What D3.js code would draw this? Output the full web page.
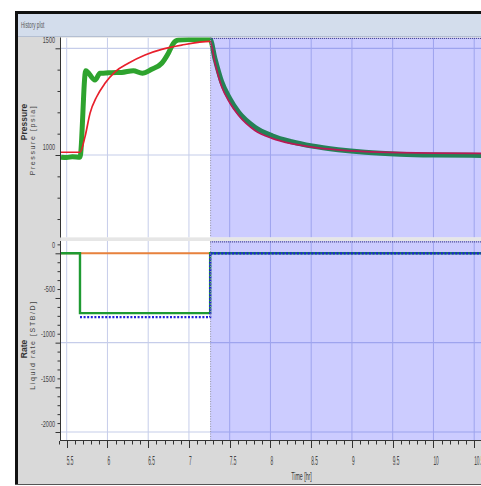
<!DOCTYPE html>
<html>
<head>
<meta charset="utf-8">
<script src="https://cdn.jsdelivr.net/npm/d3@7"></script>
<style>
  body { margin: 0; background: #fff; }
  svg { display: block; }
  text { font-family: "Liberation Sans", Arial, sans-serif; }
</style>
</head>
<body>
<svg id="chart" width="481" height="486"></svg>
<script>
// ---- data -------------------------------------------------------------
const xTickValues = [5.5, 6, 6.5, 7, 7.5, 8, 8.5, 9, 9.5, 10, 10.5];
const xTickLabels = ["5.5", "6", "6.5", "7", "7.5", "8", "8.5", "9", "9.5", "10", "10.5"];
const pTickValues = [1000, 1500];
const pTickLabels = ["1000", "1500"];
const rTickValues = [0, -500, -1000, -1500, -2000];
const rTickLabels = ["0", "-500", "-1000", "-1500", "-2000"];
const pGridValues = [1000, 1500];
const rGridValues = [0, -1000, -2000];
const shutInTime = 7.26;

// measured pressure (psia)
const measTime = [5.43, 5.50, 5.57, 5.663, 5.733, 5.847, 5.909, 5.98, 6.052, 6.175, 6.317, 6.428,
  6.543, 6.666, 6.747, 6.808, 6.869, 7.00, 7.26, 7.32, 7.40, 7.50, 7.61, 7.81, 8.02, 8.26,
  8.51, 8.83, 9.16, 9.59, 10.0, 10.6, 11.2];
const measPressure = [990, 988, 992, 990, 1395, 1351, 1383, 1384, 1386, 1387, 1395, 1383,
  1402, 1430, 1477, 1523, 1539, 1541, 1541, 1450, 1345, 1265, 1200, 1130, 1090, 1062,
  1042, 1025, 1013, 1004, 1000, 998, 997];

// model pressure (psia)
const modelTime = [5.43, 5.663, 5.725, 5.786, 5.868, 5.970, 6.093, 6.256, 6.461, 6.666, 6.911,
  7.26, 7.32, 7.40, 7.50, 7.61, 7.81, 8.02, 8.26, 8.51, 8.83, 9.16, 9.59, 10.0, 10.6, 11.2];
const modelPressure = [1013, 1013, 1086, 1195, 1273, 1336, 1390, 1430, 1469, 1495, 1515,
  1532, 1430, 1322, 1245, 1185, 1115, 1078, 1053, 1037, 1024, 1016, 1011, 1009, 1008, 1008];

// liquid rates (STB/D), step-wise
const rateModelTime = [5.43, 5.663, 7.26, 11.2];
const rateModel = [0, -670, 0, 0];
const rateMeasTime = [5.663, 7.26, 11.2];
const rateMeas = [-715, 0, 0];
const rateOtherTime = [5.43, 7.26];
const rateOther = [0, 0];

// ---- layout -----------------------------------------------------------
const svg = d3.select("#chart");
const plotL = 61, plotR = 541;
const topY0 = 37.5, topY1 = 237.5;
const botY0 = 241, botY1 = 441;

const x = d3.scaleLinear().domain([5.5, 10.5]).range([66.7, 474.2]);
const yP = d3.scaleLinear().domain([1000, 1500]).range([155, 48.3]);
const yR = d3.scaleLinear().domain([0, -2000]).range([253.3, 432]);

const condensed = (g, str, tx, ty, size, sx, anchor, fill, weight) =>
  g.append("text")
    .attr("transform", `translate(${tx},${ty}) scale(${sx},1)`)
    .attr("text-anchor", anchor)
    .attr("font-size", size)
    .attr("font-weight", weight || "normal")
    .attr("fill", fill)
    .text(str);

// window frame
svg.append("rect").attr("width", 481).attr("height", 486).attr("fill", "#fff");
svg.append("rect").attr("x", 18).attr("y", 36).attr("width", 463).attr("height", 449).attr("fill", "#d9d9d9");
svg.append("rect").attr("x", 18).attr("y", 14).attr("width", 463).attr("height", 22).attr("fill", "#d3ddec");
svg.append("line").attr("x1", 18).attr("x2", 481).attr("y1", 36.5).attr("y2", 36.5).attr("stroke", "#b4bfd2");
svg.append("rect").attr("x", 15).attr("y", 11).attr("width", 3).attr("height", 474).attr("fill", "#111");
svg.append("rect").attr("x", 15).attr("y", 11).attr("width", 466).attr("height", 3).attr("fill", "#111");
svg.append("line").attr("x1", 15).attr("x2", 481).attr("y1", 484.5).attr("y2", 484.5).attr("stroke", "#555");
condensed(svg, "History plot", 21, 28, 8.5, 0.55, "start", "#555");

// separator band between panels
svg.append("rect").attr("x", plotL).attr("y", topY1).attr("width", plotR - plotL).attr("height", botY0 - topY1).attr("fill", "#e6e6e6");

// panel backgrounds
const panels = [
  { y0: topY0, y1: topY1, id: "clipTop" },
  { y0: botY0, y1: botY1, id: "clipBot" }
];
const defs = svg.append("defs");
panels.forEach(p => {
  defs.append("clipPath").attr("id", p.id).append("rect")
    .attr("x", plotL).attr("y", p.y0).attr("width", plotR - plotL).attr("height", p.y1 - p.y0);
  svg.append("rect").attr("x", plotL).attr("y", p.y0).attr("width", plotR - plotL)
    .attr("height", p.y1 - p.y0).attr("fill", "#fff");
});

const gTop = svg.append("g").attr("clip-path", "url(#clipTop)");
const gBot = svg.append("g").attr("clip-path", "url(#clipBot)");
const gridColor = "#c6cdea";

// gridlines
[[gTop, topY0, topY1], [gBot, botY0, botY1]].forEach(([g, y0, y1]) => {
  g.selectAll(".vg").data(xTickValues).join("line")
    .attr("x1", d => x(d)).attr("x2", d => x(d)).attr("y1", y0).attr("y2", y1)
    .attr("stroke", gridColor).attr("stroke-width", 1);
});
gTop.selectAll(".hg").data(pGridValues).join("line")
  .attr("x1", plotL).attr("x2", plotR).attr("y1", d => yP(d)).attr("y2", d => yP(d))
  .attr("stroke", gridColor).attr("stroke-width", 1.2);
gBot.selectAll(".hg").data(rGridValues).join("line")
  .attr("x1", plotL).attr("x2", plotR).attr("y1", d => yR(d)).attr("y2", d => yR(d))
  .attr("stroke", gridColor).attr("stroke-width", 1.2);

// pressure curves
const pLine = d3.line().x(d => x(d[0])).y(d => yP(d[1])).curve(d3.curveMonotoneX);
gTop.append("path").attr("d", pLine(d3.zip(measTime, measPressure)))
  .attr("fill", "none").attr("stroke", "#2ea32e").attr("stroke-width", 5)
  .attr("stroke-linejoin", "round");
gTop.append("path").attr("d", pLine(d3.zip(modelTime, modelPressure)))
  .attr("fill", "none").attr("stroke", "#e8202c").attr("stroke-width", 1.7);

// rate curves
const rLine = d3.line().x(d => x(d[0])).y(d => yR(d[1])).curve(d3.curveStepAfter);
gBot.append("path").attr("d", rLine(d3.zip(rateOtherTime, rateOther)))
  .attr("fill", "none").attr("stroke", "#e8823c").attr("stroke-width", 2);
gBot.append("path").attr("d", rLine(d3.zip(rateModelTime, rateModel)))
  .attr("fill", "none").attr("stroke", "#1f9a32").attr("stroke-width", 2.4);
gBot.append("path").attr("d", rLine(d3.zip(rateMeasTime, rateMeas)))
  .attr("fill", "none").attr("stroke", "#2424d8").attr("stroke-width", 2.2)
  .attr("stroke-dasharray", "2,1.6");

// shut-in period shading
[[gTop, topY0, topY1], [gBot, botY0, botY1]].forEach(([g, y0, y1]) => {
  const sx = x(shutInTime);
  g.append("rect").attr("x", sx).attr("y", y0).attr("width", plotR - sx).attr("height", y1 - y0)
    .attr("fill", "#0000ff").attr("fill-opacity", 0.2);
  g.append("line").attr("x1", sx).attr("x2", plotR).attr("y1", y0 + 0.8).attr("y2", y0 + 0.8)
    .attr("stroke", "#3c3c8c").attr("stroke-width", 1.2).attr("stroke-dasharray", "1,1");
  g.append("line").attr("x1", sx + 0.5).attr("x2", sx + 0.5).attr("y1", y0).attr("y2", y1)
    .attr("stroke", "#9a9aa6").attr("stroke-width", 1).attr("stroke-dasharray", "1,1.5");
});

// axes
const axisColor = "#333";
function yAxis(scale, y0, y1, step, lo, hi, values, labels) {
  const g = svg.append("g");
  g.append("line").attr("x1", 60.5).attr("x2", 60.5).attr("y1", y0).attr("y2", y1).attr("stroke", axisColor);
  const minor = d3.range(lo, hi + 1, step);
  g.selectAll(".mt").data(minor).join("line")
    .attr("x1", d => values.includes(d) ? 55.5 : 57.5).attr("x2", 60.5)
    .attr("y1", d => scale(d) + 0.5).attr("y2", d => scale(d) + 0.5)
    .attr("stroke", axisColor);
  values.forEach((v, i) => condensed(g, labels[i], 55, scale(v) - 5.5, 9.5, 0.58, "end", "#444"));
}
yAxis(yP, topY0, topY1, 100, 700, 1500, pTickValues, pTickLabels);
yAxis(yR, botY0, botY1, 100, -2000, 100, rTickValues, rTickLabels);

// time axis
const gx = svg.append("g");
gx.append("line").attr("x1", 60.5).attr("x2", plotR).attr("y1", 440.5).attr("y2", 440.5).attr("stroke", axisColor);
const xMinor = d3.range(54, 106).map(d => d / 10);
gx.selectAll(".xt").data(xMinor).join("line")
  .attr("x1", d => Math.round(x(d)) + 0.5).attr("x2", d => Math.round(x(d)) + 0.5)
  .attr("y1", 441).attr("y2", d => (Math.round(d * 10) % 5 === 0) ? 448 : 444.5)
  .attr("stroke", axisColor);
xTickValues.forEach((v, i) => condensed(gx, xTickLabels[i], x(v), 465, 12, 0.4, "start", "#444"));
condensed(gx, "Time [hr]", 301.5, 480, 10.5, 0.5, "middle", "#333");

// axis titles
function yTitle(bold, thin, cy1, cy2) {
  svg.append("text").attr("transform", `translate(27,${cy1}) rotate(-90)`)
    .attr("text-anchor", "middle").attr("font-size", 8.5).attr("font-weight", "bold")
    .attr("fill", "#333").text(bold);
  svg.append("text").attr("transform", `translate(35,${cy2}) rotate(-90)`)
    .attr("text-anchor", "middle").attr("font-size", 7).attr("letter-spacing", 1.6)
    .attr("fill", "#444").text(thin);
}
yTitle("Pressure", "Pressure [psia]", 122, 140);
yTitle("Rate", "Liquid rate [STB/D]", 349, 345);
</script>
</body>
</html>
